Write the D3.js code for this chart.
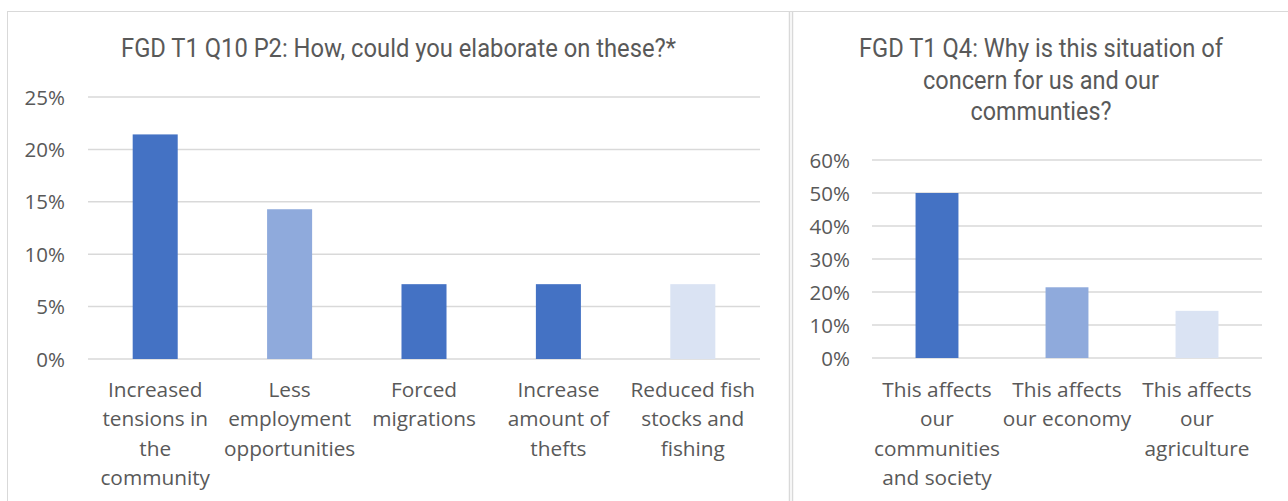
<!DOCTYPE html>
<html>
<head>
<meta charset="utf-8">
<script src="https://cdn.jsdelivr.net/npm/d3@7"></script>
<style>
  body { margin: 0; background: #fff; }
  svg { display: block; }
</style>
</head>
<body>
<div id="chart"></div>
<script>
// data
const leftTitle = 'FGD T1 Q10 P2: How, could you elaborate on these?*';
const leftCategories = ['Increased\ntensions in\nthe\ncommunity', 'Less\nemployment\nopportunities',
  'Forced\nmigrations', 'Increase\namount of\nthefts', 'Reduced fish\nstocks and\nfishing'];
const leftValues = [0.2143, 0.1429, 0.0714, 0.0714, 0.0714];
const leftColors = ['#4472C4', '#8FAADC', '#4472C4', '#4472C4', '#DAE3F3'];
const leftTicks = [0, 0.05, 0.10, 0.15, 0.20, 0.25];

const rightTitle = ['FGD T1 Q4: Why is this situation of', 'concern for us and our', 'communties?'];
const rightCategories = ['This affects\nour\ncommunities\nand society', 'This affects\nour economy',
  'This affects\nour\nagriculture'];
const rightValues = [0.50, 0.2143, 0.1429];
const rightColors = ['#4472C4', '#8FAADC', '#DAE3F3'];
const rightTicks = [0, 0.1, 0.2, 0.3, 0.4, 0.5, 0.6];

const width = 1288, height = 501;
const textColor = '#595959';
const gridColor = '#D9D9D9';
const labelFont = '"Open Sans", "Noto Sans", sans-serif';

let svg = d3.select('#chart').append('svg')
  .attr('width', width)
  .attr('height', height)
  .style('background-color', '#fff');

// panel borders
let borders = svg.append('g').attr('stroke', gridColor).attr('fill', 'none');
borders.append('line').attr('x1', 7).attr('x2', width).attr('y1', 11.5).attr('y2', 11.5);
borders.append('line').attr('x1', 7.5).attr('x2', 7.5).attr('y1', 11).attr('y2', height);
borders.append('line').attr('x1', 789.5).attr('x2', 789.5).attr('y1', 11).attr('y2', height).attr('stroke-width', 1.5);
borders.append('line').attr('x1', 792.5).attr('x2', 792.5).attr('y1', 11).attr('y2', height).attr('stroke-width', 1.5);

function drawChart(cfg) {
  let g = svg.append('g');

  let xScale = d3.scaleBand()
    .domain(cfg.categories)
    .range([cfg.left, cfg.right])
    .paddingInner(0).paddingOuter(0);

  let yScale = d3.scaleLinear()
    .domain([0, cfg.ticks[cfg.ticks.length - 1]])
    .range([cfg.bottom, cfg.top]);

  // gridlines
  g.append('g')
    .selectAll('line')
    .data(cfg.ticks)
    .enter().append('line')
    .attr('x1', cfg.left)
    .attr('x2', cfg.right)
    .attr('y1', d => yScale(d))
    .attr('y2', d => yScale(d))
    .attr('stroke', gridColor)
    .attr('stroke-width', 1.5);

  // y axis labels, no domain line or ticks
  let yAxis = g.append('g')
    .attr('transform', `translate(${cfg.labelX},0)`)
    .call(d3.axisLeft(yScale).tickValues(cfg.ticks).tickFormat(d3.format('.0%')).tickSize(0).tickPadding(0));
  yAxis.select('.domain').remove();
  yAxis.selectAll('text')
    .attr('fill', textColor)
    .attr('dy', '0.35em')
    .style('font-family', labelFont)
    .style('font-size', '20.5px');

  // bars
  let barW = xScale.bandwidth() * cfg.barFrac;
  g.append('g')
    .selectAll('rect')
    .data(cfg.values)
    .enter().append('rect')
    .attr('x', (d, i) => xScale(cfg.categories[i]) + (xScale.bandwidth() - barW) / 2)
    .attr('y', d => yScale(d))
    .attr('width', barW)
    .attr('height', d => cfg.bottom - yScale(d))
    .attr('fill', (d, i) => cfg.colors[i]);

  // category labels, wrapped like Excel does
  let cats = g.append('g')
    .selectAll('text')
    .data(cfg.categories)
    .enter().append('text')
    .attr('x', d => xScale(d) + xScale.bandwidth() / 2)
    .attr('y', 397)
    .attr('text-anchor', 'middle')
    .attr('fill', textColor)
    .style('font-family', labelFont)
    .style('font-size', '20.8px');
  cats.each(function(d) {
    let t = d3.select(this);
    let x = t.attr('x');
    d.split('\n').forEach((line, i) => {
      t.append('tspan').attr('x', x).attr('y', 397 + i * 29.3).text(line);
    });
  });

  // title (condensed look)
  g.append('g')
    .selectAll('text')
    .data(cfg.title)
    .enter().append('text')
    .attr('x', cfg.titleX)
    .attr('y', (d, i) => 57 + i * 31.5)
    .attr('text-anchor', 'middle')
    .attr('fill', textColor)
    .style('font-family', 'Roboto, sans-serif')
    .style('font-size', '25px')
    .attr('textLength', (d, i) => cfg.titleWidths[i])
    .attr('lengthAdjust', 'spacingAndGlyphs')
    .text(d => d);
}

drawChart({
  title: [leftTitle], titleWidths: [555], titleX: 398.5,
  categories: leftCategories, values: leftValues, colors: leftColors, ticks: leftTicks,
  left: 88, right: 760, top: 97, bottom: 359, labelX: 65, barFrac: 0.335
});

drawChart({
  title: rightTitle, titleWidths: [364, 236, 141], titleX: 1041,
  categories: rightCategories, values: rightValues, colors: rightColors, ticks: rightTicks,
  left: 872, right: 1262, top: 160, bottom: 358, labelX: 850, barFrac: 0.33
});
</script>
</body>
</html>
